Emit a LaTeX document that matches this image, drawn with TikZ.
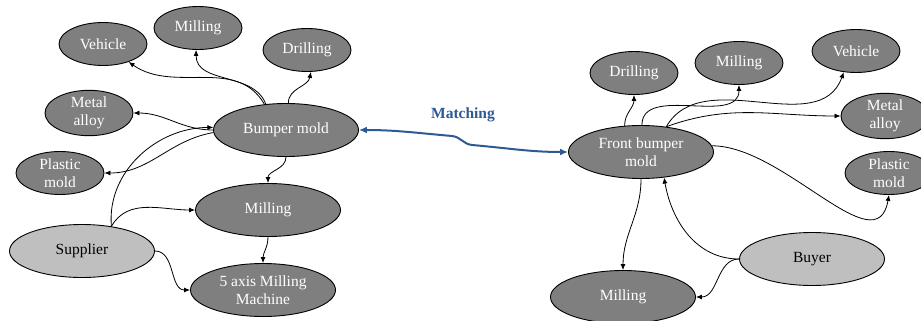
\documentclass[tikz,border=0pt]{standalone}
\usepackage{fontspec}
\setmainfont{Liberation Serif}
\usetikzlibrary{arrows.meta,shapes.geometric}
\definecolor{darkfill}{HTML}{7F7F7F}
\definecolor{lightfill}{HTML}{BFBFBF}
\definecolor{matchblue}{HTML}{2E5A94}
\begin{document}
\begin{tikzpicture}[x=1pt,y=-1pt,
  dark/.style={ellipse,draw=black,line width=0.9pt,fill=darkfill,text=white,inner sep=0pt,align=center,font=\fontsize{15.5}{18}\selectfont},
  small/.style={dark,minimum width=88pt,minimum height=43pt},
  big/.style={dark,minimum width=145pt,minimum height=53pt},
  light/.style={big,fill=lightfill,text=black},
  con/.style={draw=black,line width=0.8pt,-{Latex[length=6pt,width=5pt]}},
  match/.style={draw=matchblue,line width=2pt,{Latex[length=8pt,width=7pt]}-{Latex[length=8pt,width=7pt]}}
]
\useasboundingbox (0,0) rectangle (921,321);
% left
\node[small] (vehL) at (103,44) {Vehicle};
\node[small] (milT) at (198,28) {Milling};
\node[small] (drlL) at (307,50) {Drilling};
\node[small] (metL) at (89,113) {Metal\\alloy};
\node[big] (bump) at (286,130) {Bumper mold};
\node[small] (plaL) at (60,173) {Plastic\\mold};
\node[big] (milM) at (268,210) {Milling};
\node[light] (sup) at (82,251) {Supplier};
\node[big] (five) at (263,290) {5 axis Milling\\Machine};
% right
\node[small] (drlR) at (634,73) {Drilling};
\node[small] (milR) at (739,63) {Milling};
\node[small] (vehR) at (856,51) {Vehicle};
\node[small] (metR) at (885,116) {Metal\\alloy};
\node[big] (front) at (641,152) {Front bumper\\mold};
\node[small] (plaR) at (889,173) {Plastic\\mold};
\node[light] (buy) at (812,259) {Buyer};
\node[big] (milB) at (623,297) {Milling};
\node[text=matchblue,font=\fontsize{15.5}{18}\selectfont\bfseries] (mlab) at (463,115) {Matching};
\coordinate (mA) at (452,136);
\coordinate (mB) at (472,145);
% left edges
\draw[con] (bump.130) to[out=120,in=-35] (vehL.-35);
\draw[con] (bump.128) to[out=110,in=-90] (milT.-95);
\draw[con] (bump.85) to[out=90,in=-100] (drlL.-80);
\draw[con] (bump.180) to[out=180,in=0] (metL.east);
\draw[con] (bump.182) to[out=190,in=0] (plaL.east);
\draw[con] (sup.40) to[out=95,in=180] (bump.178);
\draw[con] (sup.40) to[out=60,in=180] (milM.west);
\draw[con] (sup.east) to[out=0,in=180] (five.west);
\draw[con] (bump.-90) to[out=-90,in=90] (milM.north);
\draw[con] (milM.south) to[out=-90,in=90] (five.north);
% match
\draw[match] (bump.east) to[out=0,in=175] (mA) to[out=-5,in=175] (mB) to[out=-5,in=180] (front.west);
% right edges
\draw[con] (front.122) to[out=90,in=-90] (drlR.south);
\draw[con] (front.88) to[out=90,in=-90] (milR.south);
\draw[con] (front.45) to[out=60,in=-110] (vehR.-120);
\draw[con] (front.45) to[out=20,in=180] (metR.west);
\draw[con] (front.5) to[out=0,in=-100] (plaR.south);
\draw[con] (front.-90) to[out=-90,in=90] (milB.north);
\draw[con] (buy.west) to[out=180,in=-80] (front.-48);
\draw[con] (buy.west) to[out=180,in=0] (milB.east);
\end{tikzpicture}
\end{document}
